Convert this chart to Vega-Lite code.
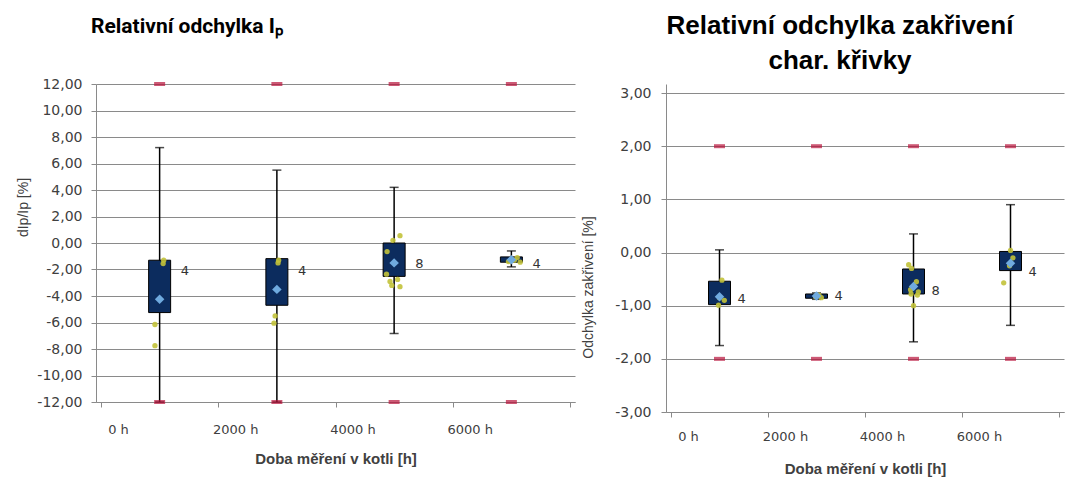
{
  "$schema": "https://vega.github.io/schema/vega-lite/v6.json",
  "background": "white",
  "padding": {"left": 16, "top": 13, "right": 5, "bottom": 5},
  "spacing": -6,
  "config": {
    "view": {"stroke": null},
    "axis": {
      "labelFont": "DejaVu Sans", "labelFontSize": 13, "labelColor": "#404040", "labelOverlap": false,
      "titleFont": "Liberation Sans", "titleFontSize": 14, "titleColor": "#404040", "titleFontWeight": "normal",
      "gridColor": "#8a8a8a", "gridWidth": 1, "domainColor": "#8a8a8a", "tickColor": "#8a8a8a"
    }
  },
  "datasets": {
    "lb": [
      {"t": 1000, "q1": -5.25, "q3": -1.3, "lo": -12, "hi": 7.2, "mean": -4.25, "n": "4", "ly": -2.1},
      {"t": 3000, "q1": -4.7, "q3": -1.18, "lo": -12, "hi": 5.5, "mean": -3.5, "n": "4", "ly": -2.1},
      {"t": 5000, "q1": -2.52, "q3": 0.0, "lo": -6.83, "hi": 4.2, "mean": -1.5, "n": "8", "ly": -1.6},
      {"t": 7000, "q1": -1.45, "q3": -1.05, "lo": -1.8, "hi": -0.6, "mean": -1.26, "n": "4", "ly": -1.6}
    ],
    "lp": [
      {"t": 1070, "v": -1.3}, {"t": 1060, "v": -1.55}, {"t": 920, "v": -6.15}, {"t": 920, "v": -7.75},
      {"t": 3030, "v": -1.3}, {"t": 3020, "v": -1.5}, {"t": 2970, "v": -5.5}, {"t": 2950, "v": -6.05},
      {"t": 5100, "v": 0.55}, {"t": 4980, "v": 0.2}, {"t": 4880, "v": -0.65}, {"t": 4870, "v": -2.35},
      {"t": 5060, "v": -2.75}, {"t": 4930, "v": -2.9}, {"t": 4960, "v": -3.2}, {"t": 5100, "v": -3.3},
      {"t": 7100, "v": -1.1}, {"t": 7050, "v": -1.3}, {"t": 6950, "v": -1.4}, {"t": 7150, "v": -1.45}
    ],
    "lm": [
      {"t": 1000, "v": 12}, {"t": 3000, "v": 12}, {"t": 5000, "v": 12}, {"t": 7000, "v": 12},
      {"t": 1000, "v": -12}, {"t": 3000, "v": -12}, {"t": 5000, "v": -12}, {"t": 7000, "v": -12}
    ],
    "rb": [
      {"t": 1000, "q1": -0.98, "q3": -0.54, "lo": -1.75, "hi": 0.05, "mean": -0.83, "n": "4", "ly": -0.87},
      {"t": 3000, "q1": -0.86, "q3": -0.78, "lo": -0.88, "hi": -0.76, "mean": -0.82, "n": "4", "ly": -0.82},
      {"t": 5000, "q1": -0.78, "q3": -0.31, "lo": -1.68, "hi": 0.35, "mean": -0.64, "n": "8", "ly": -0.73},
      {"t": 7000, "q1": -0.34, "q3": 0.02, "lo": -1.37, "hi": 0.9, "mean": -0.2, "n": "4", "ly": -0.36}
    ],
    "rp": [
      {"t": 1050, "v": -0.52}, {"t": 1000, "v": -0.85}, {"t": 1100, "v": -0.9}, {"t": 980, "v": -0.99},
      {"t": 3050, "v": -0.8}, {"t": 2980, "v": -0.83}, {"t": 3100, "v": -0.85}, {"t": 3000, "v": -0.81},
      {"t": 4900, "v": -0.23}, {"t": 4960, "v": -0.3}, {"t": 5060, "v": -0.55}, {"t": 4940, "v": -0.7},
      {"t": 5100, "v": -0.74}, {"t": 4950, "v": -0.78}, {"t": 5080, "v": -0.8}, {"t": 5000, "v": -1.0},
      {"t": 7000, "v": 0.04}, {"t": 7050, "v": -0.1}, {"t": 6980, "v": -0.25}, {"t": 6860, "v": -0.57}
    ],
    "rm": [
      {"t": 1000, "v": 2}, {"t": 3000, "v": 2}, {"t": 5000, "v": 2}, {"t": 7000, "v": 2},
      {"t": 1000, "v": -2}, {"t": 3000, "v": -2}, {"t": 5000, "v": -2}, {"t": 7000, "v": -2}
    ]
  },
  "hconcat": [
    {
      "width": 479,
      "height": 318,
      "title": {"text": "Relativní odchylka Iₚ", "anchor": "start", "frame": "group", "dx": -5, "offset": 40, "font": "Roboto", "fontSize": 21, "fontWeight": "bold", "color": "#000000"},
      "layer": [
        {
          "data": {"name": "lb"},
          "mark": {"type": "rule", "color": "#000000", "strokeWidth": 1.5},
          "encoding": {
            "x": {"field": "t", "type": "quantitative", "scale": {"domain": [0, 8000], "nice": false},
              "axis": {"values": [0, 2000, 4000, 6000, 8000], "tickCount": 10, "labelExpr": "datum.value < 8000 ? datum.value + ' h' : ''", "labelFlush": false, "labelAlign": "center", "labelOffset": 17, "grid": false, "tickSize": 5, "labelPadding": 16, "title": "Doba měření v kotli [h]", "titleFontWeight": "bold", "titleFontSize": 15, "titlePadding": 15}},
            "y": {"field": "lo", "type": "quantitative", "scale": {"domain": [-12, 12], "nice": false},
              "axis": {"values": [-12, -10, -8, -6, -4, -2, 0, 2, 4, 6, 8, 10, 12], "tickCount": 20, "labelExpr": "replace(replace(format(datum.value, '.2f'), '.', ','), '−', '-')", "labelFontSize": 14, "grid": true, "tickSize": 5, "labelPadding": 9, "title": "dIp/Ip [%]", "titleX": -73, "titleY": 123, "titleBaseline": "middle"}},
            "y2": {"field": "hi"}
          }
        },
        {
          "data": {"name": "lb"},
          "mark": {"type": "tick", "orient": "horizontal", "size": 9, "thickness": 1.5, "color": "#000000"},
          "encoding": {"x": {"field": "t", "type": "quantitative"}, "y": {"field": "hi", "type": "quantitative"}}
        },
        {
          "data": {"name": "lb"},
          "mark": {"type": "tick", "orient": "horizontal", "size": 9, "thickness": 1.5, "color": "#000000"},
          "encoding": {"x": {"field": "t", "type": "quantitative"}, "y": {"field": "lo", "type": "quantitative"}}
        },
        {
          "data": {"name": "lb"},
          "mark": {"type": "bar", "size": 22, "color": "#0C2C5E", "stroke": "#000000", "strokeWidth": 1},
          "encoding": {"x": {"field": "t", "type": "quantitative"}, "y": {"field": "q1", "type": "quantitative"}, "y2": {"field": "q3"}}
        },
        {
          "data": {"name": "lp"},
          "mark": {"type": "circle", "size": 28, "color": "#C2C23A", "opacity": 0.9},
          "encoding": {"x": {"field": "t", "type": "quantitative"}, "y": {"field": "v", "type": "quantitative"}}
        },
        {
          "data": {"name": "lb"},
          "mark": {"type": "point", "shape": "diamond", "filled": true, "size": 90, "color": "#6FAADF", "opacity": 1},
          "encoding": {"x": {"field": "t", "type": "quantitative"}, "y": {"field": "mean", "type": "quantitative"}}
        },
        {
          "data": {"name": "lm"},
          "mark": {"type": "tick", "orient": "horizontal", "size": 11, "thickness": 4, "color": "#B8123A"},
          "encoding": {"x": {"field": "t", "type": "quantitative"}, "y": {"field": "v", "type": "quantitative"}}
        },
        {
          "data": {"name": "lb"},
          "mark": {"type": "text", "align": "left", "baseline": "middle", "dx": 21, "font": "DejaVu Sans", "fontSize": 13, "color": "#333333"},
          "encoding": {"x": {"field": "t", "type": "quantitative"}, "y": {"field": "ly", "type": "quantitative"}, "text": {"field": "n"}}
        }
      ]
    },
    {
      "width": 398,
      "height": 328,
      "title": {"text": ["Relativní odchylka zakřivení", "char. křivky"], "anchor": "middle", "frame": "group", "dx": -25, "offset": 10, "lineHeight": 35, "font": "Liberation Sans", "fontSize": 26, "fontWeight": "bold", "color": "#000000"},
      "layer": [
        {
          "data": {"name": "rb"},
          "mark": {"type": "rule", "color": "#000000", "strokeWidth": 1.5},
          "encoding": {
            "x": {"field": "t", "type": "quantitative", "scale": {"domain": [0, 8000], "nice": false},
              "axis": {"values": [0, 2000, 4000, 6000, 8000], "tickCount": 10, "labelExpr": "datum.value < 8000 ? datum.value + ' h' : ''", "labelFlush": false, "labelAlign": "center", "labelOffset": 17, "grid": false, "tickSize": 5, "labelPadding": 13, "title": "Doba měření v kotli [h]", "titleFontWeight": "bold", "titleFontSize": 15, "titlePadding": 18}},
            "y": {"field": "lo", "type": "quantitative", "scale": {"domain": [-3, 3.17], "nice": false},
              "axis": {"values": [-3, -2, -1, 0, 1, 2, 3], "tickCount": 10, "labelExpr": "replace(replace(format(datum.value, '.2f'), '.', ','), '−', '-')", "labelFontSize": 14, "grid": true, "tickSize": 5, "labelPadding": 10, "title": "Odchylka zakřivení [%]", "titleX": -78, "titleY": 203, "titleBaseline": "middle"}},
            "y2": {"field": "hi"}
          }
        },
        {
          "data": {"name": "rb"},
          "mark": {"type": "tick", "orient": "horizontal", "size": 9, "thickness": 1.5, "color": "#000000"},
          "encoding": {"x": {"field": "t", "type": "quantitative"}, "y": {"field": "hi", "type": "quantitative"}}
        },
        {
          "data": {"name": "rb"},
          "mark": {"type": "tick", "orient": "horizontal", "size": 9, "thickness": 1.5, "color": "#000000"},
          "encoding": {"x": {"field": "t", "type": "quantitative"}, "y": {"field": "lo", "type": "quantitative"}}
        },
        {
          "data": {"name": "rb"},
          "mark": {"type": "bar", "size": 22, "color": "#0C2C5E", "stroke": "#000000", "strokeWidth": 1},
          "encoding": {"x": {"field": "t", "type": "quantitative"}, "y": {"field": "q1", "type": "quantitative"}, "y2": {"field": "q3"}}
        },
        {
          "data": {"name": "rp"},
          "mark": {"type": "circle", "size": 28, "color": "#C2C23A", "opacity": 0.9},
          "encoding": {"x": {"field": "t", "type": "quantitative"}, "y": {"field": "v", "type": "quantitative"}}
        },
        {
          "data": {"name": "rb"},
          "mark": {"type": "point", "shape": "diamond", "filled": true, "size": 90, "color": "#6FAADF", "opacity": 1},
          "encoding": {"x": {"field": "t", "type": "quantitative"}, "y": {"field": "mean", "type": "quantitative"}}
        },
        {
          "data": {"name": "rm"},
          "mark": {"type": "tick", "orient": "horizontal", "size": 11, "thickness": 4, "color": "#B8123A"},
          "encoding": {"x": {"field": "t", "type": "quantitative"}, "y": {"field": "v", "type": "quantitative"}}
        },
        {
          "data": {"name": "rb"},
          "mark": {"type": "text", "align": "left", "baseline": "middle", "dx": 18, "font": "DejaVu Sans", "fontSize": 13, "color": "#333333"},
          "encoding": {"x": {"field": "t", "type": "quantitative"}, "y": {"field": "ly", "type": "quantitative"}, "text": {"field": "n"}}
        }
      ]
    }
  ]
}
